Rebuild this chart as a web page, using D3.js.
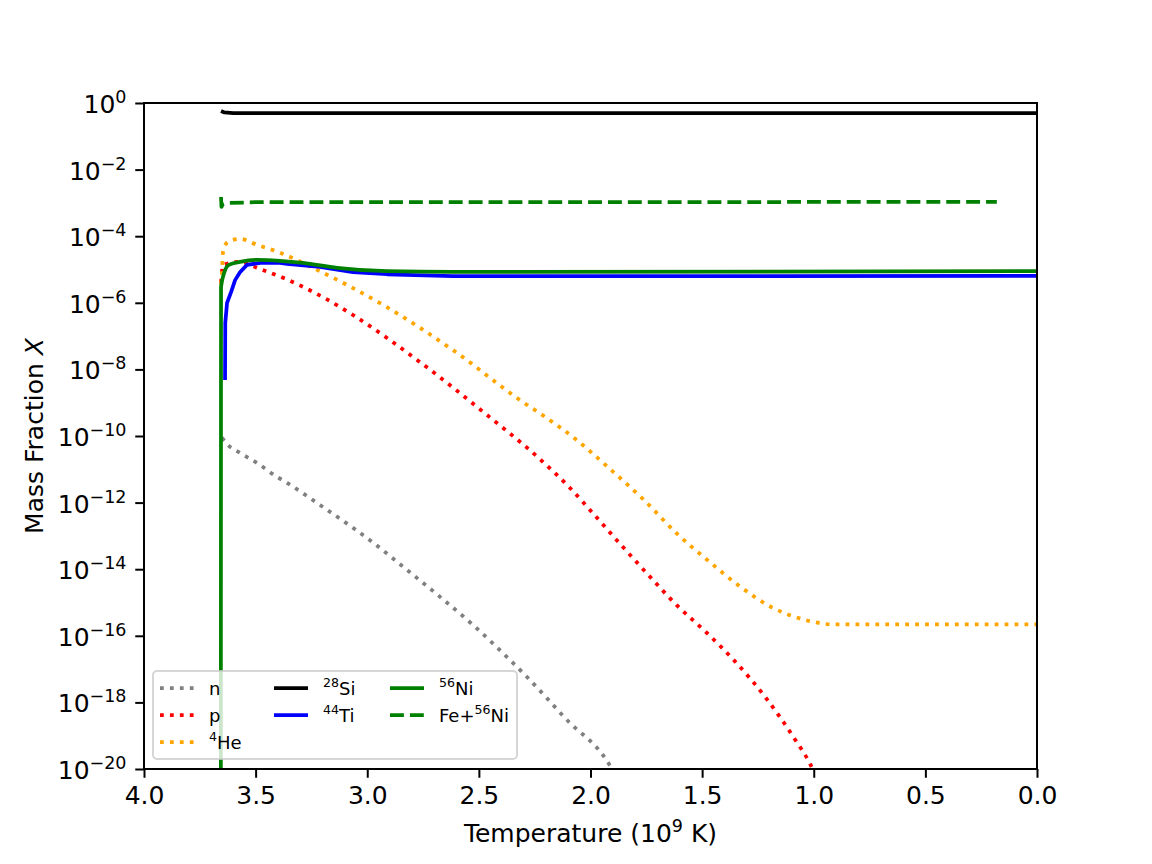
<!DOCTYPE html>
<html>
<head>
<meta charset="utf-8">
<script src="https://cdn.jsdelivr.net/npm/d3@7"></script>
<style>
  body { margin: 0; background: #fff; }
  svg { font-family: "DejaVu Sans", sans-serif; }
</style>
</head>
<body>
<svg id="chart" width="1152" height="864"></svg>
<script>
// temperature (10^9 K), mass fraction
const neutrons = [[3.651, 8.9e-11], [3.624, 5.4e-11], [3.570, 3.1e-11], [3.494, 1.55e-11], [3.404, 5.9e-12],
  [3.359, 3.9e-12], [3.212, 8.5e-13], [3.064, 1.75e-13], [2.974, 6.3e-14], [2.822, 9.5e-15], [2.674, 1.48e-15],
  [2.526, 2.1e-16], [2.374, 2.3e-17], [2.280, 5.4e-18], [2.114, 3.4e-19], [1.904, 1e-20], [1.88, 5e-21]];
const protons = [[3.655, 4.0e-6], [3.646, 1.38e-5], [3.570, 1.7e-5], [3.494, 1.12e-5], [3.359, 5.0e-6],
  [3.180, 1.26e-6], [3.064, 4.3e-7], [2.764, 1.66e-8], [2.464, 4.3e-10], [2.222, 1.9e-11], [2.095, 2.9e-12],
  [1.976, 3.8e-13], [1.858, 4.9e-14], [1.737, 6.3e-15], [1.614, 8.3e-16], [1.484, 1.32e-16], [1.358, 1.86e-17],
  [1.215, 1.38e-18], [1.087, 8.3e-20], [1.017, 1.45e-20], [0.99, 6e-21]];
const helium = [[3.655, 3.5e-6], [3.651, 7.9e-6], [3.646, 3.4e-5], [3.624, 6.8e-5], [3.570, 8.3e-5],
  [3.494, 5.5e-5], [3.391, 3.2e-5], [3.243, 1.12e-5], [2.912, 7.4e-7], [2.616, 3.8e-8], [2.316, 1.2e-9],
  [2.205, 3.8e-10], [2.062, 7.6e-11], [1.928, 1.26e-11], [1.764, 1.26e-12], [1.607, 1.07e-13], [1.472, 1.78e-14],
  [1.335, 3.2e-15], [1.187, 7.1e-16], [1.10, 4.0e-16], [1.017, 2.75e-16], [0.914, 2.2e-16], [0, 2.2e-16]];
const si28 = [[3.655, 0.575], [3.64, 0.52], [3.6, 0.5], [0, 0.5]];
const ti44 = [[3.637, 4.8e-9], [3.636, 2.5e-7], [3.628, 1.0e-6], [3.610, 2.1e-6], [3.592, 4.8e-6],
  [3.570, 8.3e-6], [3.539, 1.38e-5], [3.480, 1.58e-5], [3.391, 1.58e-5], [3.359, 1.48e-5], [3.212, 1.2e-5],
  [3.064, 8.3e-6], [2.912, 7.2e-6], [2.616, 6.3e-6], [1.868, 6.3e-6], [0, 6.4e-6]];
const ni56 = [[3.656, 1e-25], [3.655, 3.0e-6], [3.64, 8.3e-6], [3.62, 1.38e-5], [3.570, 1.7e-5],
  [3.494, 1.95e-5], [3.391, 1.82e-5], [3.288, 1.58e-5], [3.135, 1.12e-5], [2.912, 8.9e-6], [2.616, 8.5e-6], [0, 8.9e-6]];
const feNi = [[3.655, 1.5e-3], [3.653, 7.6e-4], [3.648, 8.9e-4], [3.62, 1.0e-3], [3.5, 1.05e-3], [0.18, 1.07e-3]];

const xTicks = [4.0, 3.5, 3.0, 2.5, 2.0, 1.5, 1.0, 0.5, 0.0];
const yTickExps = [0, -2, -4, -6, -8, -10, -12, -14, -16, -18, -20];

const DOT = "3.75,6.19", DASH = "13.9,6";
const series = [
  {name: "n", sup: "", data: neutrons, color: "gray", dash: DOT, smooth: true},
  {name: "p", sup: "", data: protons, color: "red", dash: DOT, smooth: true},
  {name: "He", sup: "4", data: helium, color: "orange", dash: DOT, smooth: true},
  {name: "Si", sup: "28", data: si28, color: "black", dash: null, smooth: false},
  {name: "Ti", sup: "44", data: ti44, color: "blue", dash: null, smooth: false},
  {name: "Ni", sup: "56", data: ni56, color: "green", dash: null, smooth: true},
  {name: "Ni", sup: "56", pre: "Fe+", data: feNi, color: "green", dash: DASH, smooth: false}
];

const svg = d3.select("#chart");
const margin = {top: 103, right: 115, bottom: 95, left: 144};
const width = 1152 - margin.left - margin.right;
const height = 864 - margin.top - margin.bottom;
const g = svg.append("g").attr("transform", `translate(${margin.left},${margin.top})`);

const x = d3.scaleLinear().domain([4, 0]).range([0, width]);
const y = d3.scaleLog().domain([1e-20, 1]).range([height, 0]);

g.append("clipPath").attr("id", "clip")
  .append("rect").attr("width", width).attr("height", height);

const lineSmooth = d3.line().x(d => x(d[0])).y(d => y(d[1])).curve(d3.curveMonotoneX);
const lineStraight = d3.line().x(d => x(d[0])).y(d => y(d[1]));

const plot = g.append("g").attr("clip-path", "url(#clip)");
series.forEach(s => {
  plot.append("path")
    .datum(s.data)
    .attr("fill", "none")
    .attr("stroke", s.color)
    .attr("stroke-width", 3.75)
    .attr("stroke-dasharray", s.dash)
    .attr("stroke-linejoin", "round")
    .attr("d", s.smooth ? lineSmooth : lineStraight);
});

// x axis
const xAxis = g.append("g")
  .attr("transform", `translate(0,${height})`)
  .call(d3.axisBottom(x).tickValues(xTicks).tickFormat(d3.format(".1f")).tickSizeOuter(0).tickSize(8.75).tickPadding(8));
xAxis.select(".domain").remove();
xAxis.selectAll("line").attr("stroke-width", 2);
xAxis.selectAll("text").attr("font-size", 25).attr("font-family", "DejaVu Sans").attr("fill", "#000");

// y axis
const yAxis = g.append("g")
  .call(d3.axisLeft(y).tickValues(yTickExps.map(e => Math.pow(10, e))).tickFormat("").tickSizeOuter(0).tickSize(8.75));
yAxis.select(".domain").remove();
yAxis.selectAll("line").attr("stroke-width", 2);
yTickExps.forEach(e => {
  const t = g.append("text")
    .attr("x", -17.5)
    .attr("y", y(Math.pow(10, e)) + 10)
    .attr("text-anchor", "end")
    .attr("font-size", 25);
  t.append("tspan").text("10");
  t.append("tspan").attr("dy", -10).attr("font-size", 17.5).text(String(e).replace("-", "\u2212"));
});

// frame
g.append("rect").attr("width", width).attr("height", height)
  .attr("fill", "none").attr("stroke", "#000").attr("stroke-width", 2);

// axis labels
const xl = svg.append("text")
  .attr("x", margin.left + width / 2)
  .attr("y", 842)
  .attr("text-anchor", "middle")
  .attr("font-size", 25);
xl.append("tspan").text("Temperature (10");
xl.append("tspan").attr("dy", -10).attr("font-size", 17.5).text("9");
xl.append("tspan").attr("dy", 10).text(" K)");

const yl = svg.append("text")
  .attr("transform", `translate(43,${margin.top + height / 2}) rotate(-90)`)
  .attr("text-anchor", "middle")
  .attr("font-size", 25);
yl.append("tspan").text("Mass Fraction ");
yl.append("tspan").attr("font-style", "italic").text("X");

// legend
const legend = g.append("g").attr("transform", `translate(9,${height - 98})`);
legend.append("rect")
  .attr("width", 364).attr("height", 88).attr("rx", 4)
  .attr("fill", "#fff").attr("fill-opacity", 0.8)
  .attr("stroke", "#ccc").attr("stroke-opacity", 0.8).attr("stroke-width", 2);

const cols = [[0, 1, 2], [3, 4], [5, 6]];
const colX = [7, 121, 237];
cols.forEach((idxs, ci) => {
  idxs.forEach((si, ri) => {
    const s = series[si];
    const row = legend.append("g").attr("transform", `translate(${colX[ci]},${17 + ri * 27})`);
    row.append("line")
      .attr("x1", 0).attr("x2", 34).attr("y1", 0).attr("y2", 0)
      .attr("stroke", s.color).attr("stroke-width", 3.75)
      .attr("stroke-dasharray", s.dash);
    const t = row.append("text").attr("x", 49).attr("y", 6.5).attr("font-size", 18);
    if (s.pre) t.append("tspan").text(s.pre);
    if (s.sup) t.append("tspan").attr("dy", -7.5).attr("font-size", 12.6).text(s.sup);
    t.append("tspan").attr("dy", s.sup ? 7.5 : 0).text(s.name);
  });
});
</script>
</body>
</html>
